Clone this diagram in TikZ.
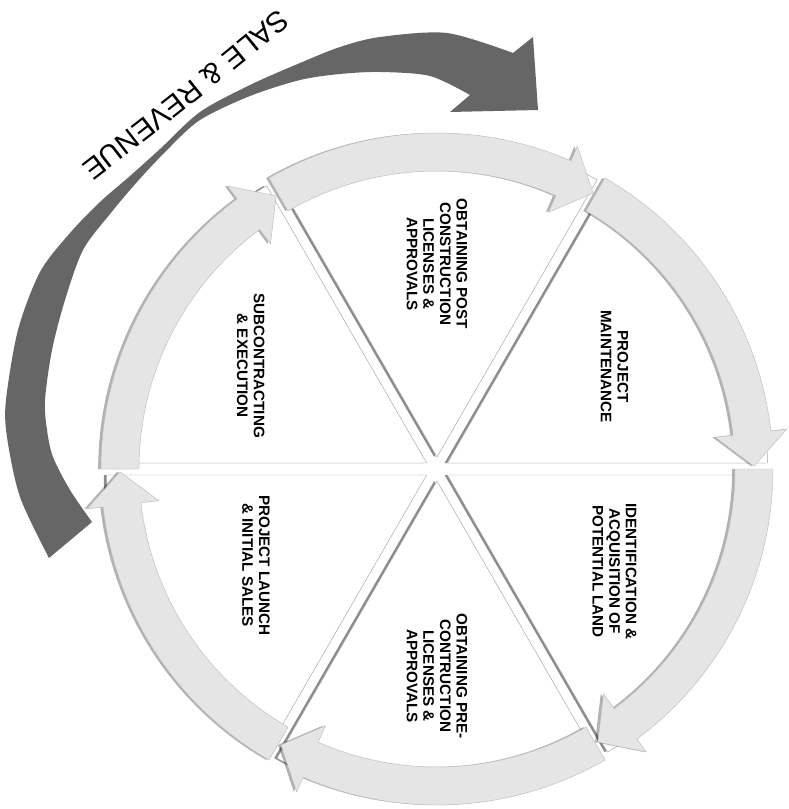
\documentclass[tikz,border=0pt]{standalone}
\usepackage{fontspec}
\setmainfont{Liberation Sans}
\usetikzlibrary{shadows,decorations.text}

\tikzset{
  wedge/.style={fill=white, draw=black!35, line width=0.4pt,
    drop shadow={shadow xshift=-2.4pt, shadow yshift=0pt, fill=black, opacity=0.45}},
  band/.style={fill=black!10, draw=black!25, line width=0.4pt,
    drop shadow={shadow xshift=-2.4pt, shadow yshift=0pt, fill=black, opacity=0.3}},
  stage/.style={align=center, rotate=-90, inner sep=0pt,
    font=\fontsize{13}{14.2}\selectfont\bfseries},
  revenue/.style={fill=black!60},
}

\begin{document}
\begin{tikzpicture}[x=0.3mm, y=0.3mm]
  \useasboundingbox (0,0) rectangle (788,-809);
  \fill[white] (0,0) rectangle (788,-809);

  % big curved arrow
  \path[revenue] plot[smooth] coordinates {(49,-558) (20,-497) (7,-437) (6,-400) (18,-330)
      (40,-272) (70,-233) (100,-202) (130,-176) (160,-149) (200,-112) (250,-85)
      (300,-63) (340,-47) (380,-37) (447,-33) (513,-53)}
    -- (533,-37) -- (538,-110) -- (450,-112)
    -- plot[smooth] coordinates {(470,-95) (430,-76) (380,-72) (340,-74) (300,-80)
      (250,-96) (200,-120) (167,-150) (137,-182) (110,-214) (83,-250) (65,-300)
      (52,-350) (45,-400) (47,-430) (53,-457) (70,-490) (92,-522)}
    -- cycle;
  \path[decorate, decoration={text along path, text align=center,
      text={|\fontsize{25}{25}\selectfont|SALE {\&} REVENUE}}]
    (320,26) .. controls (181,-88) .. (38,-198);

  \begin{scope}[shift={(437,-469)}]
    % pie segments
    \foreach \b in {0,60,...,300} {
      \pgfmathsetmacro\m{\b+30}
      \path[wedge, shift={(\m:12)}] (0,0) -- (\b:320)
        arc[start angle=\b, end angle=\b+60, radius=320] -- cycle;
    }
    % curved arrows round the ring
    \foreach \b in {60,0,300,240,180,120} {
      \path[band] (\b+60:298) arc[start angle=\b+60, end angle=\b+6.5, radius=298]
        -- (\b+6.5:280) -- (\b+0.5:317) -- (\b+6.5:352) -- (\b+6.5:336)
        arc[start angle=\b+6.5, end angle=\b+60, radius=336] -- cycle;
    }
    % stage labels
    \node[stage] (post) at (90:205) {OBTAINING POST\\CONSTRUCTION\\LICENSES \&\\APPROVALS};
    \node[stage] (maint) at (30:205) {PROJECT\\MAINTENANCE};
    \node[stage] (ident) at (-30:205) {IDENTIFICATION \&\\ACQUISITION OF\\POTENTIAL LAND};
    \node[stage] (pre) at (-90:207) {OBTAINING PRE-\\CONTRUCTION\\LICENSES \&\\APPROVALS};
    \node[stage] (launch) at (208:205) {PROJECT LAUNCH\\\& INITIAL SALES};
    \node[stage] (subc) at (151:213) {SUBCONTRACTING\\\& EXECUTION};
  \end{scope}
\end{tikzpicture}
\end{document}
